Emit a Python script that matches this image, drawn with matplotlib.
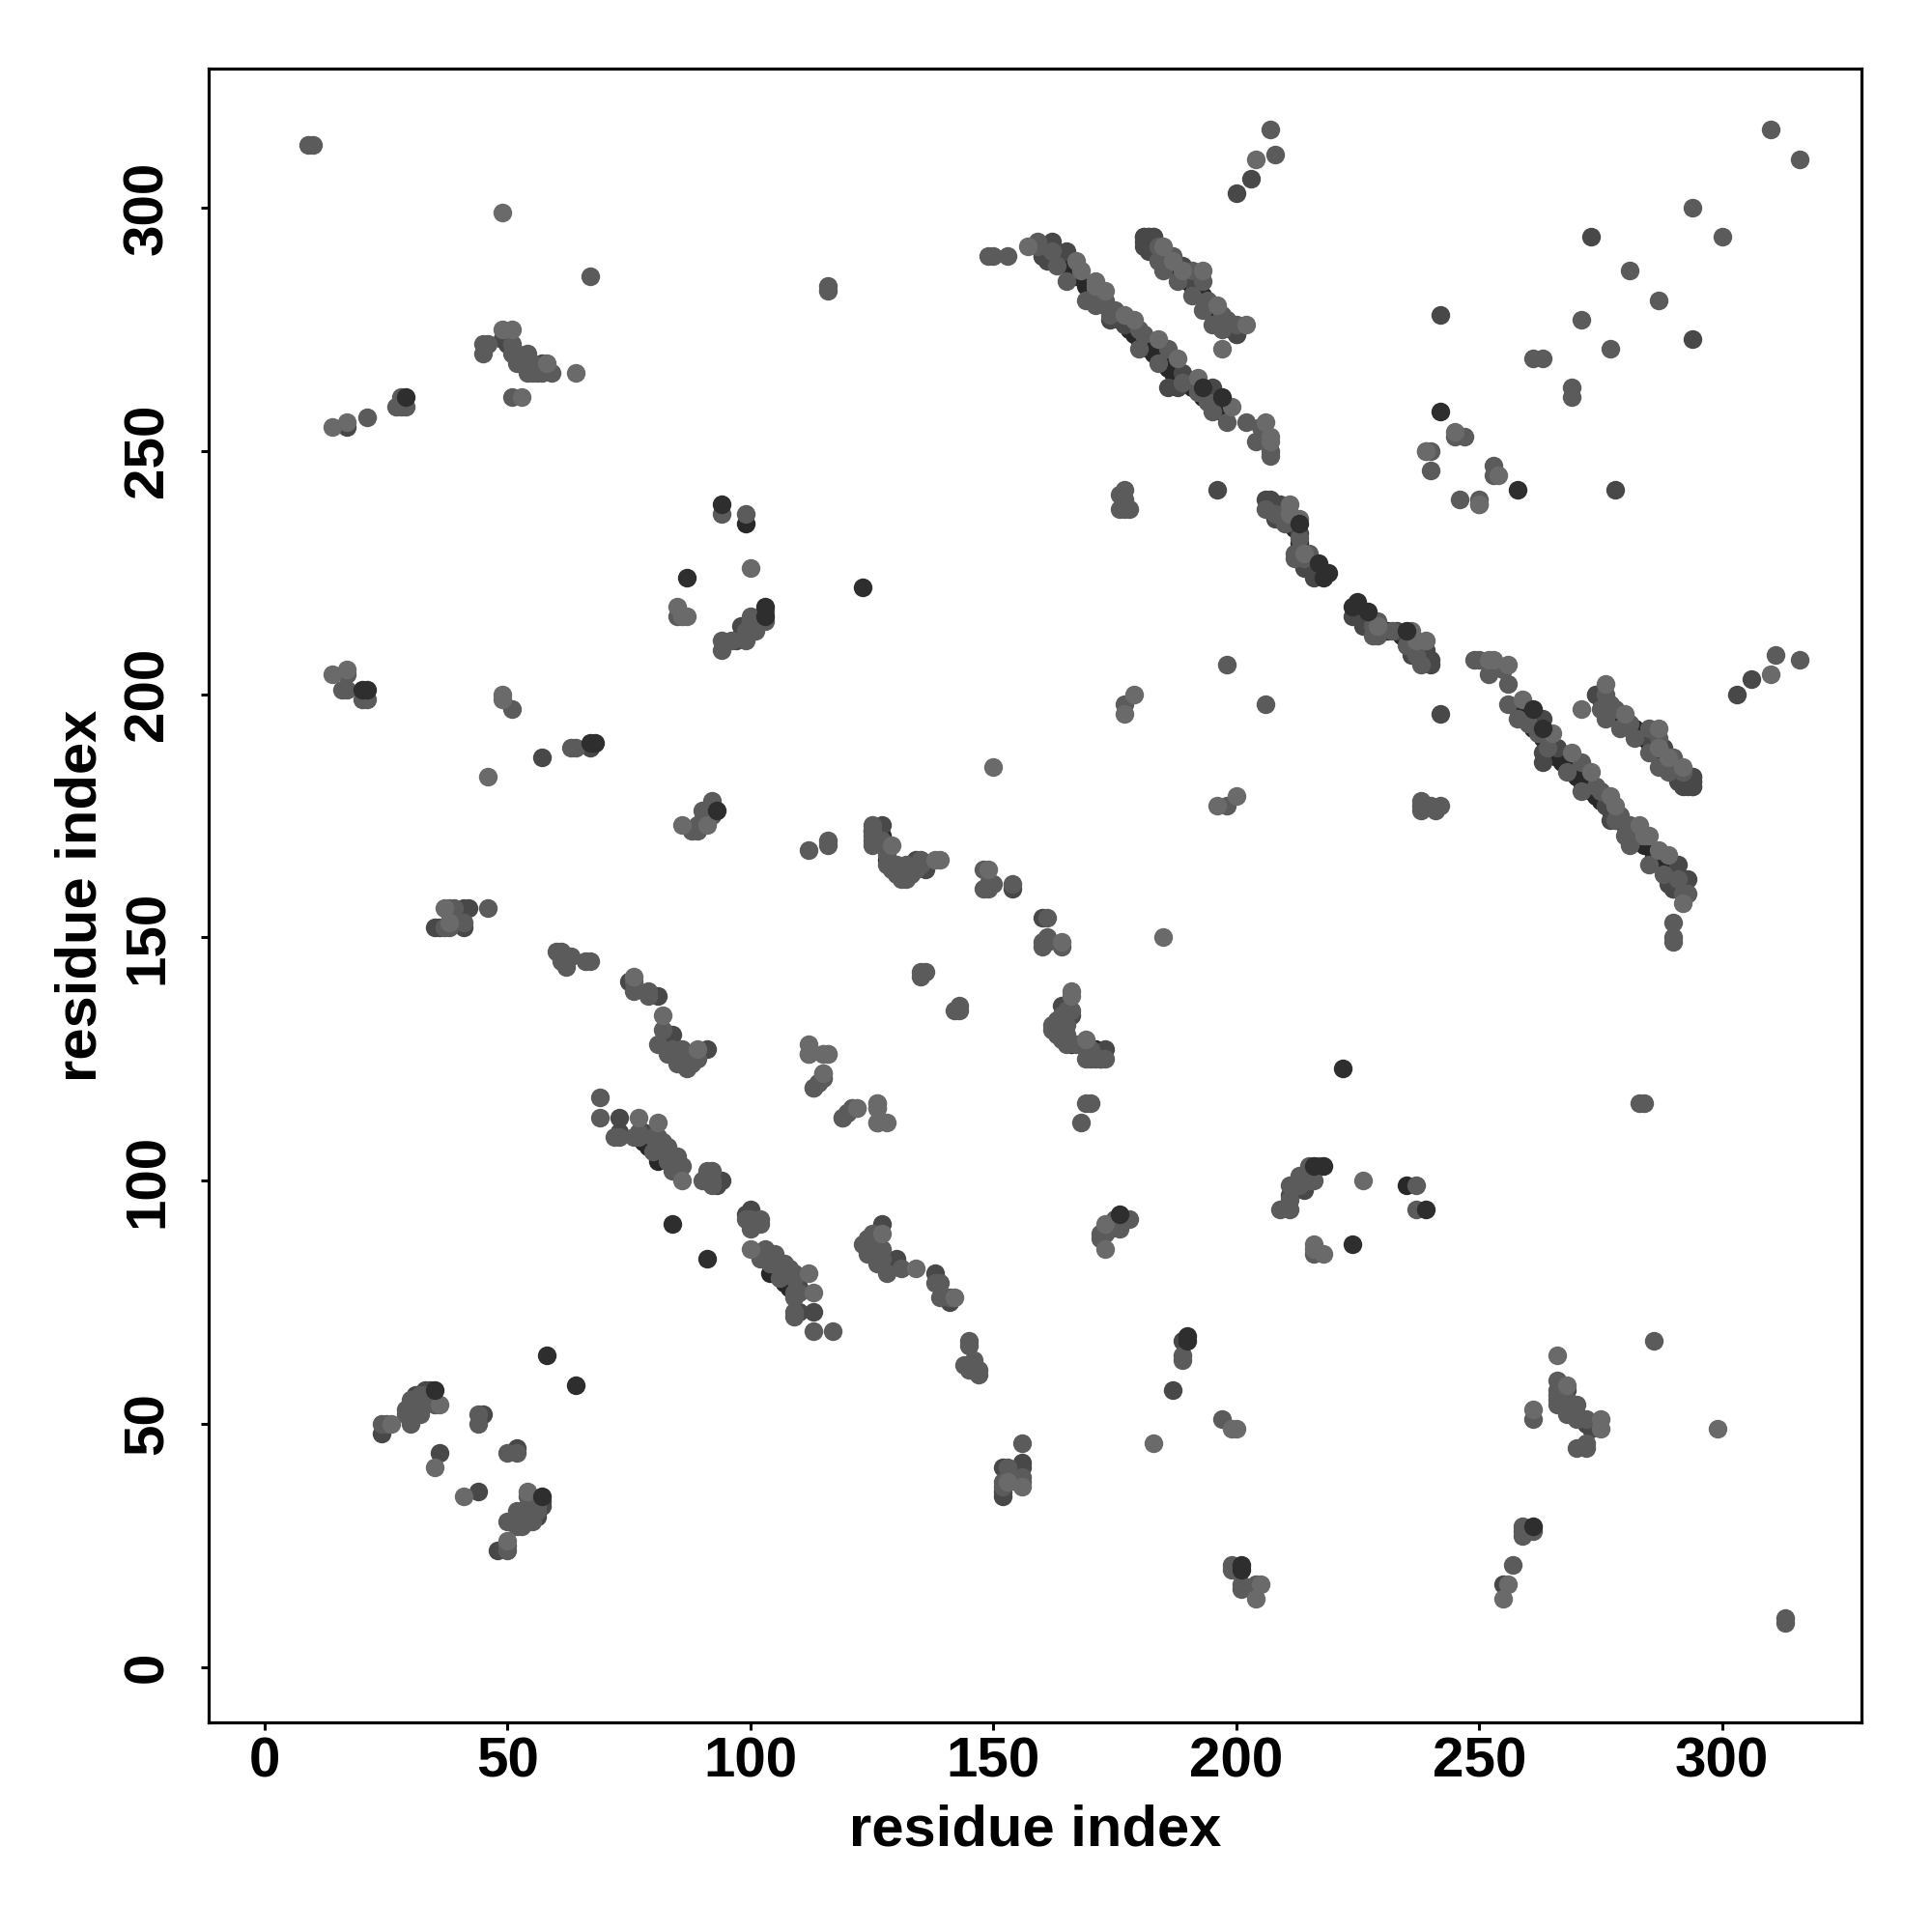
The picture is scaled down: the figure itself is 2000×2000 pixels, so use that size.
import matplotlib
matplotlib.use("Agg")
import matplotlib.pyplot as plt

# residue contacts, one triangle only (i < j), the map is symmetric
# grouped by how dark the point looks, drawn in this order

under_pairs = [(160,290),(161,291),(163,290),(164,289),(166,287),(167,286),(169,284),(170,283),(172,281),(173,280),
               (175,278),(176,277),(178,275),(179,274),(180,273),(182,271),(183,270),(185,268),(186,267),(187,266),
               (189,265),(190,264),(191,263),(193,261),(194,261),(196,259),(197,258),
               (182,293),(183,292),(184,291),(185,290),(186,289),(187,288),(188,287),(189,286),(190,285),(191,284),
               (192,283),(193,282),(194,280),(195,279),(196,278),(197,277),(198,276),(199,275),
               (208,238),(209,237),(211,235),(212,234),(213,231),(214,228),(215,227),(216,226),(217,225),
               (81,104),(79,107),(78,108),(82,106),(99,235),(125,172),(127,171),(128,166),(130,164)]

deep_pairs = [(49,273),(50,272),(57,268),(17,255),(57,187),(67,189),(41,156),(42,156),(38,155),(35,152),(36,152),(41,152),
              (127,173),(134,166),(136,164),(154,160),(75,141),(81,138),(84,130),(91,127),
              (73,113),(73,110),(78,110),(93,99),(94,100),(97,211),(98,214),(98,212),
              (203,306),(200,303),(273,294),(242,278),(196,242),(24,48),(36,44),(45,52),
              (160,290),(162,293),(165,291),(161,289),(174,277),(176,278),(177,276),
              (181,294),(182,294),(183,294),(181,292),(182,291),(189,288),(191,285),(200,274),
              (189,266),(195,263),(206,240),(207,240),(209,239),(208,236),(210,236),(213,233),
              (216,224),(214,226),(294,183),(294,182),(294,181),(293,181),(274,200),
              (186,263),(188,263),(33,57),(34,57),(31,56),(32,53)]

mid_pairs = [(9,313),(10,313),(67,286),
             (45,270),(45,272),(46,272),(51,272),(51,270),(52,270),(54,270),(52,268),(53,268),(55,268),
             (54,266),(55,266),(56,266),(57,266),(59,266),(51,261),
             (21,257),(27,259),(28,259),(29,259),(28,261),
             (94,209),(94,211),(99,211),(99,213),(100,216),(100,215),(101,213),(103,215),(103,217),(96,211),(99,212),
             (85,216),(94,237),(99,237),
             (17,204),(16,201),(17,201),(20,199),(21,199),(51,197),(63,189),(64,189),
             (38,156),(39,156),(46,156),(37,152),(38,152),(41,153),
             (88,172),(89,172),(89,173),(90,174),(90,176),(92,175),(92,178),
             (112,168),(116,170),(116,169),(125,173),(125,171),(125,170),(126,170),(128,165),(130,165),
             (131,163),(132,163),(132,165),(133,163),(135,166),(134,164),(135,165),(132,162),(131,162),
             (130,163),(129,164),(128,167),(127,170),(125,169),(125,172),
             (148,164),(148,160),(149,160),(150,161),(149,161),(154,161),
             (135,143),(136,143),(135,142),
             (60,147),(61,147),(61,145),(62,146),(62,144),(63,146),(66,145),(67,145),
             (76,141),(76,139),(79,139),(79,138),(82,131),(81,128),(83,126),(84,127),(86,127),(87,123),
             (85,124),(89,125),(87,125),(88,124),(86,125),
             (112,126),(115,122),(115,121),(114,120),(113,119),(119,113),(120,114),(121,115),
             (69,117),(69,113),(72,109),(73,109),(76,109),(77,109),(77,110),(80,109),(81,109),(82,108),
             (80,106),(83,107),(84,102),(85,105),(86,103),(83,104),(84,105),
             (90,100),(92,102),(91,102),(92,99),(92,100),
             (207,316),(208,311),(294,300),(281,287),(271,277),(310,316),(261,269),(263,269),
             (239,250),(240,250),(240,246),(245,253),(247,253),(198,206),(177,198),
             (176,241),(177,242),(177,240),(176,238),(177,238),(178,238),(177,239),(116,283),(116,284),
             (24,50),(25,50),(29,53),(29,52),(30,50),(30,54),(30,55),(31,52),(32,56),(35,54),(33,56),(32,52),(32,55),(44,50),(44,52),
             (149,290),(150,290),(153,290),(159,293),(159,292),(162,291),(163,288),(165,285),(169,281),(171,280),
             (172,282),(173,281),(175,279),(171,283),(174,278),(180,271),(181,274),(180,275),(184,268),(186,271),
             (189,264),(192,262),(193,263),(194,260),(195,258),(198,256),(202,256),(205,255),(204,252),(207,250),(207,249),
             (184,289),(185,287),(187,290),(188,285),(191,287),(193,285),(191,282),(193,279),(194,281),(195,276),
             (197,275),(197,278),(198,277),(200,276),(184,292),
             (206,238),(208,237),(210,235),(212,229),(212,228),(213,232),(214,229),(215,229),(214,228)]

light_pairs = [(49,299),(49,275),(51,275),(58,268),(64,266),(53,261),(14,255),(17,256),(100,226),(85,218),(86,216),(87,216),
               (14,204),(17,205),(49,200),(49,199),(46,183),(37,156),(38,153),(86,173),(91,173),(129,169),(138,166),(139,166),
               (149,164),(76,142),(82,134),(89,127),(112,128),(115,126),(116,126),(122,115),(126,112),(126,115),(126,116),
               (77,113),(81,112),(86,100),
               (204,310),(197,271),(150,185),(177,196),(179,200),(245,254),(250,239),
               (26,50),(36,54),(35,41),(157,292),(167,289),(168,287),(171,285),(171,284),(179,277),(184,273),
               (188,269),(192,265),(199,259),(206,256),(207,253),(207,252),(177,278),(173,283),
               (185,292),(187,289),(189,287),(193,287),(196,280),(202,276),(211,239),(214,229),(211,237),(213,236)]

# darkest ones, these sit on top of the rest
top_pairs = [(20,201),(21,201),(29,261),(67,190),(68,190),(58,64),(84,91),(87,224),(94,239),(103,218),(103,216),(93,176),
             (123,222),(35,57),(242,258),(217,227),(213,235),(219,225),(218,224),(197,261),(193,263)]

pair_groups = [under_pairs, deep_pairs, mid_pairs, light_pairs, top_pairs]
shades = ["#282828", "#484848", "#5b5b5b", "#6a6a6a", "#2e2e2e"]
tick_vals = [0, 50, 100, 150, 200, 250, 300]

plt.rcParams['font.family'] = ['Liberation Sans', 'DejaVu Sans']
fig = plt.figure(figsize=(20, 20), dpi=100)
ax = fig.add_axes([0.1078, 0.1085, 0.8557, 0.856])

for pairs, shade in zip(pair_groups, shades):
    ii = [p[0] for p in pairs]
    jj = [p[1] for p in pairs]
    ax.scatter(ii + jj, jj + ii, s=195, color=shade, linewidths=0)

ax.set_xlim(-11.6, 328.7)
ax.set_ylim(-11.4, 328.6)
ax.set_xticks(tick_vals)
ax.set_yticks(tick_vals)
ax.tick_params(axis='both', length=5.8, width=2.2, labelsize=42)
ax.tick_params(axis='x', pad=5)
ax.tick_params(axis='y', pad=19.5)
for lab in ax.get_xticklabels() + ax.get_yticklabels():
    lab.set_fontweight('bold')
for lab in ax.get_yticklabels():
    lab.set_rotation(90)
    lab.set_va('center')
for s in ax.spines.values():
    s.set_linewidth(2.3)

ax.set_xlabel("residue index", fontsize=43, fontweight='bold', va='center')
ax.set_ylabel("residue index", fontsize=43, fontweight='bold', va='center')
ax.xaxis.set_label_coords(0.5, -0.0652)
ax.yaxis.set_label_coords(-0.0771, 0.5)

plt.savefig("out.png", dpi=100)
